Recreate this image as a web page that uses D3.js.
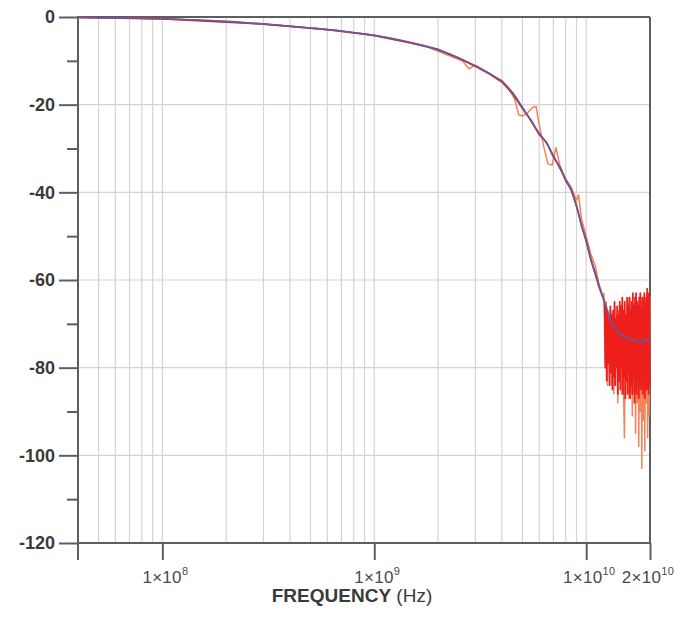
<!DOCTYPE html>
<html>
<head>
<meta charset="utf-8">
<script src="https://cdn.jsdelivr.net/npm/d3@7"></script>
<style>
  html, body { margin: 0; padding: 0; background: #fff; }
  svg { display: block; }
</style>
</head>
<body>
<svg id="chart" width="681" height="619"></svg>
<script>
// ---------- DATA ----------
// Blue (smooth) response, frequency in GHz, magnitude in dB
const blueFreqGHz = [0.04, 0.06, 0.1, 0.15, 0.2, 0.3, 0.5, 0.7, 1.0, 1.3, 1.6, 2.0, 2.5, 3.0, 3.5, 4.0, 4.5, 5.0, 5.5, 6.0, 6.5, 7.0, 7.5, 8.0, 8.5, 9.0, 9.5, 10.0, 10.5, 11.0, 11.5, 12.0, 12.5, 13.0, 14.0, 15.0, 16.0, 17.0, 18.0, 19.0, 20.0];
const blueDb      = [-0.1, -0.2, -0.4, -0.7, -1.0, -1.6, -2.5, -3.2, -4.2, -5.2, -6.2, -7.5, -9.3, -11.2, -12.9, -14.7, -17.3, -20.6, -23.8, -26.5, -28.8, -31.6, -34.4, -37.0, -39.6, -43.2, -47.3, -51.2, -55.0, -58.5, -61.3, -64.0, -66.5, -69.0, -71.8, -72.8, -73.4, -73.8, -74.2, -73.8, -73.3];

// Orange measured trace
const orangeFreqGHz = [0.04, 0.1, 0.2, 0.4, 0.7, 1.0, 1.4, 1.8, 2.2, 2.6, 2.8, 3.0, 3.4, 3.8, 4.0, 4.3, 4.6, 4.8, 5.0, 5.3, 5.6, 5.8, 6.0, 6.3, 6.6, 6.9, 7.2, 7.5, 8.0, 8.5, 9.0, 9.2, 9.5, 10.0, 10.5, 11.0, 11.5, 12.0,
  12.1, 12.3, 12.45, 12.6, 12.75, 12.9, 13.05, 13.2, 13.35, 13.5, 13.65, 13.8, 13.95, 14.1, 14.25, 14.4, 14.55, 14.7, 14.85, 15.0, 15.15, 15.3, 15.45, 15.6, 15.75, 15.9, 16.05, 16.2, 16.35, 16.5, 16.65, 16.8, 16.95, 17.1, 17.25, 17.4, 17.55, 17.7, 17.85, 18.0, 18.15, 18.3, 18.45, 18.6, 18.75, 18.9, 19.05, 19.2, 19.35, 19.5, 19.65, 19.8, 19.95];
const orangeDb = [-0.1, -0.4, -1.0, -2.1, -3.2, -4.3, -5.7, -6.9, -8.6, -10.0, -11.8, -11.0, -12.5, -14.0, -14.4, -16.2, -18.8, -22.3, -22.6, -21.8, -20.6, -20.4, -24.5, -29.5, -33.5, -33.8, -29.8, -33.8, -37.0, -38.8, -41.8, -40.6, -46.0, -50.0, -54.0, -56.5, -61.0, -64.0,
  -63, -72, -65, -84, -68, -76, -67, -84, -70, -86, -66, -79, -68, -88, -67, -83, -70, -86, -68, -85, -96, -70, -69, -81, -65, -87, -64, -84, -68, -91, -66, -86, -69, -95, -65, -88, -67, -98, -64, -90, -68, -103, -66, -92, -64, -99, -67, -88, -63, -96, -66, -91, -64];

// Red measured trace
const redFreqGHz = [0.04, 0.1, 0.3, 0.6, 1.0, 1.5, 2.0, 2.5, 3.0, 3.5, 4.0, 4.5, 5.0, 5.5, 6.0, 6.5, 7.0, 7.5, 8.0, 8.5, 9.0, 9.5, 10.0, 10.5, 11.0, 11.5, 12.0,
  12.2, 12.3, 12.4, 12.5, 12.6, 12.7, 12.8, 12.9, 13.0, 13.1, 13.2, 13.3, 13.4, 13.5, 13.6, 13.7, 13.8, 13.9, 14.0, 14.1, 14.2, 14.3, 14.4, 14.5, 14.6, 14.7, 14.8, 14.9, 15.0, 15.1, 15.2, 15.3, 15.4, 15.5, 15.6, 15.7, 15.8, 15.9, 16.0, 16.1, 16.2, 16.3, 16.4, 16.5, 16.6, 16.7, 16.8, 16.9, 17.0, 17.1, 17.2, 17.3, 17.4, 17.5, 17.6, 17.7, 17.8, 17.9, 18.0, 18.1, 18.2, 18.3, 18.4, 18.5, 18.6, 18.7, 18.8, 18.9, 19.0, 19.1, 19.2, 19.3, 19.4, 19.5, 19.6, 19.7, 19.8, 19.9, 20.0];
const redDb = [-0.1, -0.4, -1.6, -2.9, -4.2, -5.9, -7.4, -9.4, -11.2, -13.0, -14.8, -17.5, -20.8, -23.6, -26.8, -28.6, -31.9, -34.2, -37.3, -39.4, -43.0, -47.6, -51.0, -55.3, -58.2, -61.6, -64.0,
  -65, -80, -66, -83, -67, -79, -69, -84, -66, -81, -68, -85, -67, -82, -65, -84, -69, -80, -66, -86, -68, -83, -65, -85, -66, -80, -64, -86, -67, -82, -65, -87, -68, -83, -64, -86, -66, -81, -64, -87, -67, -84, -65, -86, -63, -82, -66, -88, -64, -85, -63, -86, -65, -83, -66, -87, -64, -84, -63, -85, -67, -82, -64, -86, -65, -84, -63, -87, -66, -83, -64, -85, -62, -84, -65, -86, -63, -84];

// Axis definitions
const yMajorTicks = [0, -20, -40, -60, -80, -100, -120];
const yMinorTicks = [-10, -30, -50, -70, -90, -110];
const xMajorTicks = [1e8, 1e9, 1e10, 2e10];
const xTickMantissa = ["1", "1", "1", "2"];
const xTickExponent = ["8", "9", "10", "10"];
const xGridValues = [5e7, 6e7, 7e7, 8e7, 9e7, 1e8, 2e8, 3e8, 4e8, 5e8, 6e8, 7e8, 8e8, 9e8, 1e9, 2e9, 3e9, 4e9, 5e9, 6e9, 7e9, 8e9, 9e9, 1e10];
const xAxisTitle = "FREQUENCY";
const xAxisUnit = " (Hz)";

// ---------- CHART ----------
(function () {
const svg = d3.select("#chart");
const mLeft = 78, mRight = 650, mTop = 17, mBottom = 543;

const x = d3.scaleLog().domain([4e7, 2e10]).range([mLeft, mRight]);
const y = d3.scaleLinear().domain([-120, 0]).range([mBottom, mTop]);

const gridColor = "#d4d4d4";
const axisColor = "#5e5e5e";

// vertical grid
svg.append("g").selectAll("line").data(xGridValues).join("line")
  .attr("x1", d => x(d)).attr("x2", d => x(d))
  .attr("y1", mTop).attr("y2", mBottom)
  .attr("stroke", gridColor).attr("stroke-width", 1.2);

// horizontal grid
svg.append("g").selectAll("line").data(yMajorTicks.filter(d => d !== 0 && d !== -120)).join("line")
  .attr("x1", mLeft).attr("x2", mRight)
  .attr("y1", d => y(d)).attr("y2", d => y(d))
  .attr("stroke", gridColor).attr("stroke-width", 1.2);

// frame: top and right
svg.append("line").attr("x1", mLeft).attr("x2", mRight).attr("y1", mTop).attr("y2", mTop)
  .attr("stroke", axisColor).attr("stroke-width", 2);
svg.append("line").attr("x1", mRight).attr("x2", mRight).attr("y1", mTop).attr("y2", mBottom)
  .attr("stroke", axisColor).attr("stroke-width", 2);

// Y axis
const yAxis = svg.append("g").attr("transform", `translate(${mLeft},0)`)
  .call(d3.axisLeft(y).tickValues(yMajorTicks).tickSize(19).tickSizeOuter(0).tickFormat(d => d === 0 ? "0" : "-" + Math.abs(d)));
yAxis.select(".domain").remove();
yAxis.selectAll(".tick line").attr("stroke", axisColor).attr("stroke-width", 2);
yAxis.selectAll(".tick text")
  .attr("x", -23)
  .attr("fill", "#3a3a3a")
  .style("font-family", "Liberation Sans, Arial, sans-serif")
  .style("font-size", "18px")
  .style("font-weight", "bold");

const yMinor = svg.append("g").attr("transform", `translate(${mLeft},0)`)
  .call(d3.axisLeft(y).tickValues(yMinorTicks).tickSize(11).tickSizeOuter(0).tickFormat(""));
yMinor.select(".domain").remove();
yMinor.selectAll(".tick line").attr("stroke", axisColor).attr("stroke-width", 2);

// left axis line (extends below)
svg.append("line").attr("x1", mLeft).attr("x2", mLeft).attr("y1", mTop - 1).attr("y2", mBottom + 17)
  .attr("stroke", axisColor).attr("stroke-width", 2);

// X axis
const xAxis = svg.append("g").attr("transform", `translate(0,${mBottom})`)
  .call(d3.axisBottom(x).tickValues(xMajorTicks).tickSize(17).tickSizeOuter(0).tickFormat(""));
xAxis.select(".domain").attr("stroke", axisColor).attr("stroke-width", 2)
  .attr("d", `M${mLeft},0H${mRight}`);
xAxis.selectAll(".tick line").attr("stroke", axisColor).attr("stroke-width", 2);

const xl = svg.append("g").selectAll("text").data(xMajorTicks).join("text")
  .attr("x", (d, i) => x(d) + (i === 3 ? -2 : 3))
  .attr("y", 583)
  .attr("text-anchor", "middle")
  .attr("fill", "#4a4a4a")
  .style("font-family", "Liberation Sans, Arial, sans-serif")
  .style("font-size", "17px")
  .style("letter-spacing", "0.3px");
xl.append("tspan").text((d, i) => xTickMantissa[i] + "\u00D710");
xl.append("tspan").attr("dy", -8).style("font-size", "11px").text((d, i) => xTickExponent[i]);

const title = svg.append("text")
  .attr("x", 352).attr("y", 602)
  .attr("text-anchor", "middle")
  .attr("fill", "#3a3a3a")
  .style("font-family", "Liberation Sans, Arial, sans-serif")
  .style("font-size", "19px");
title.append("tspan").style("font-weight", "bold").text(xAxisTitle);
title.append("tspan").style("font-weight", "normal").text(xAxisUnit);

// ---------- LINES ----------
const line = d3.line().x(d => x(d[0] * 1e9)).y(d => y(d[1]));
const orangeData = orangeFreqGHz.map((f, i) => [f, orangeDb[i]]);
const redData = redFreqGHz.map((f, i) => [f, redDb[i]]);
const blueData = blueFreqGHz.map((f, i) => [f, blueDb[i]]);

svg.append("path").datum(orangeData).attr("d", line)
  .attr("fill", "none").attr("stroke", "#f2845a").attr("stroke-width", 1.5).attr("stroke-linejoin", "round");
svg.append("path").datum(redData).attr("d", line)
  .attr("fill", "none").attr("stroke", "#ec1f1c").attr("stroke-width", 1.8).attr("stroke-linejoin", "round");
svg.append("path").datum(blueData).attr("d", line.curve(d3.curveMonotoneX))
  .attr("fill", "none").attr("stroke", "#5a5fa6").attr("stroke-width", 1.6);
})();
</script>
</body>
</html>
